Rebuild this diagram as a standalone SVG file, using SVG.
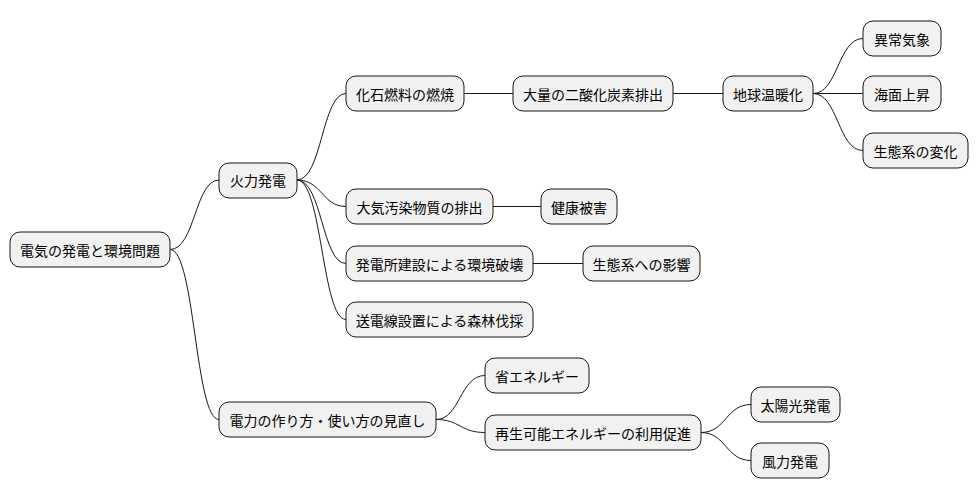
<svg xmlns="http://www.w3.org/2000/svg" width="978" height="499" viewBox="0 0 978 499">
<style>
rect{fill:#f1f1f1;stroke:#181818;stroke-width:1}
text{font-family:"Noto Sans CJK JP","Noto Sans CJK SC",sans-serif;font-size:14px;fill:#000;text-anchor:middle;dominant-baseline:central}
#connectors path{fill:none;stroke:#181818;stroke-width:1}
</style>
<rect width="978" height="499" style="fill:#fff;stroke:none"/>
<g id="connectors">
<path d="M170,249.5 C195,249.5 195,180 219,180"/>
<path d="M170,249.5 C195,249.5 195,419.5 219,419.5"/>
<path d="M297,180 C322,180 322,93.5 346,93.5"/>
<path d="M297,180 C322,180 322,206.5 346,206.5"/>
<path d="M297,180 C322,180 322,263.5 346,263.5"/>
<path d="M297,180 C322,180 322,319.5 346,319.5"/>
<path d="M464,93.5 L513,93.5"/>
<path d="M673,93.5 L723,93.5"/>
<path d="M813,93.5 C838,93.5 838,38.5 863,38.5"/>
<path d="M813,93.5 L863,93.5"/>
<path d="M813,93.5 C838,93.5 838,150.5 863,150.5"/>
<path d="M493,206.5 L541,206.5"/>
<path d="M533,263.5 L583,263.5"/>
<path d="M436,419.5 C460,419.5 460,375.5 485,375.5"/>
<path d="M436,419.5 C460,419.5 460,432.5 485,432.5"/>
<path d="M701,432.5 C726,432.5 726,404.5 751,404.5"/>
<path d="M701,432.5 C726,432.5 726,460.5 751,460.5"/>
</g>
<g id="n1"><rect x="10" y="232" width="160" height="35" rx="10"/><text x="90" y="249.5">電気の発電と環境問題</text></g>
<g id="n2"><rect x="219" y="163" width="78" height="35" rx="10"/><text x="258" y="180">火力発電</text></g>
<g id="n3"><rect x="346" y="76" width="118" height="35" rx="10"/><text x="405" y="93.5">化石燃料の燃焼</text></g>
<g id="n4"><rect x="513" y="76" width="160" height="35" rx="10"/><text x="593" y="93.5">大量の二酸化炭素排出</text></g>
<g id="n5"><rect x="723" y="76" width="90" height="35" rx="10"/><text x="768" y="93.5">地球温暖化</text></g>
<g id="n6"><rect x="863" y="21" width="78" height="35" rx="10"/><text x="902" y="38.5">異常気象</text></g>
<g id="n7"><rect x="863" y="76" width="78" height="35" rx="10"/><text x="902" y="93.5">海面上昇</text></g>
<g id="n8"><rect x="863" y="133" width="105" height="35" rx="10"/><text x="915.5" y="150.5">生態系の変化</text></g>
<g id="n9"><rect x="346" y="189" width="147" height="35" rx="10"/><text x="419.5" y="206.5">大気汚染物質の排出</text></g>
<g id="n10"><rect x="541" y="189" width="76" height="35" rx="10"/><text x="579" y="206.5">健康被害</text></g>
<g id="n11"><rect x="346" y="246" width="187" height="35" rx="10"/><text x="439.5" y="263.5">発電所建設による環境破壊</text></g>
<g id="n12"><rect x="583" y="246" width="117" height="35" rx="10"/><text x="641.5" y="263.5">生態系への影響</text></g>
<g id="n13"><rect x="346" y="302" width="187" height="35" rx="10"/><text x="439.5" y="319.5">送電線設置による森林伐採</text></g>
<g id="n14"><rect x="219" y="402" width="217" height="35" rx="10"/><text x="327.5" y="419.5">電力の作り方・使い方の見直し</text></g>
<g id="n15"><rect x="485" y="358" width="104" height="35" rx="10"/><text x="537" y="375.5">省エネルギー</text></g>
<g id="n16"><rect x="485" y="415" width="216" height="35" rx="10"/><text x="593" y="432.5">再生可能エネルギーの利用促進</text></g>
<g id="n17"><rect x="751" y="387" width="89" height="35" rx="10"/><text x="795.5" y="404.5">太陽光発電</text></g>
<g id="n18"><rect x="751" y="443" width="78" height="35" rx="10"/><text x="790" y="460.5">風力発電</text></g>
</svg>
